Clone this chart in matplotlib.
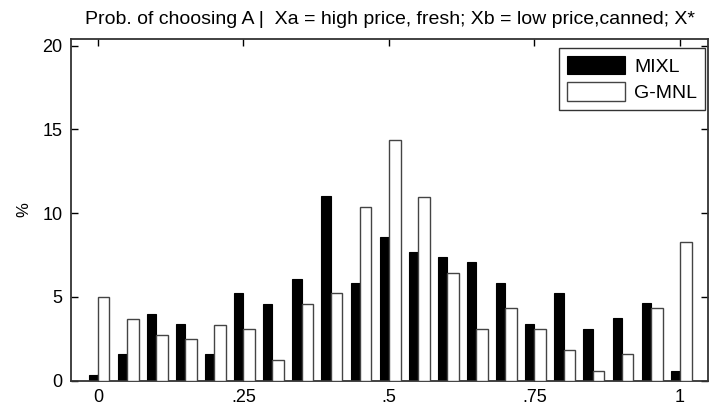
import matplotlib
matplotlib.use("Agg")
import matplotlib.pyplot as plt
import numpy as np

bins = [0.0, 0.05, 0.10, 0.15, 0.20, 0.25, 0.30, 0.35, 0.40, 0.45, 0.50,
        0.55, 0.60, 0.65, 0.70, 0.75, 0.80, 0.85, 0.90, 0.95, 1.0]
mixl = [0.34, 1.59, 3.98, 3.38, 1.59, 5.21, 4.59, 6.10, 11.01, 5.84, 8.59,
        7.71, 7.36, 7.10, 5.84, 3.38, 5.23, 3.08, 3.72, 4.61, 0.60]
gmnl = [4.97, 3.70, 2.74, 2.47, 3.34, 3.06, 1.21, 4.57, 5.21, 10.36, 14.37,
        10.99, 6.44, 3.06, 4.31, 3.06, 1.85, 0.60, 1.59, 4.31, 8.27]
xticks = [0, 0.25, 0.5, 0.75, 1]
xticklabels = ["0", ".25", ".5", ".75", "1"]
yticks = [0, 5, 10, 15, 20]
title = "Prob. of choosing A |  Xa = high price, fresh; Xb = low price,canned; X*"

plt.rcParams['font.family'] = ['Liberation Sans', 'DejaVu Sans']

fig = plt.figure(figsize=(7.19, 4.17), dpi=100)
ax = fig.add_axes([0.0988, 0.0871, 0.8859, 0.8194])

x = np.array(bins)
ax.bar(x - 0.016, mixl, width=0.016, align='edge', color='black',
       edgecolor='black', linewidth=0.8, label='MIXL', zorder=2)
ax.bar(x, gmnl, width=0.020, align='edge', color='white',
       edgecolor='#444444', linewidth=1.0, label='G-MNL', zorder=3)

ax.set_xlim(-0.046, 1.048)
ax.set_ylim(0, 20.4)
ax.set_xticks(xticks)
ax.set_xticklabels(xticklabels)
ax.set_yticks(yticks)
ax.tick_params(direction='in', top=True, right=True, length=5, width=1,
               labelsize=13, pad=6)
for s in ax.spines.values():
    s.set_linewidth(1.3)
    s.set_color('#333333')
ax.set_ylabel('%', fontsize=12, labelpad=8)
ax.set_title(title, fontsize=14, pad=11)

leg = ax.legend(loc='upper right', bbox_to_anchor=(0.9953, 0.9736),
                borderaxespad=0, fontsize=14, frameon=True, fancybox=False,
                edgecolor='black', handlelength=3.0, handleheight=1.08,
                borderpad=0.4, labelspacing=0.35, handletextpad=0.45)
leg.get_frame().set_linewidth(1.0)

fig.savefig("out.png", dpi=100)
